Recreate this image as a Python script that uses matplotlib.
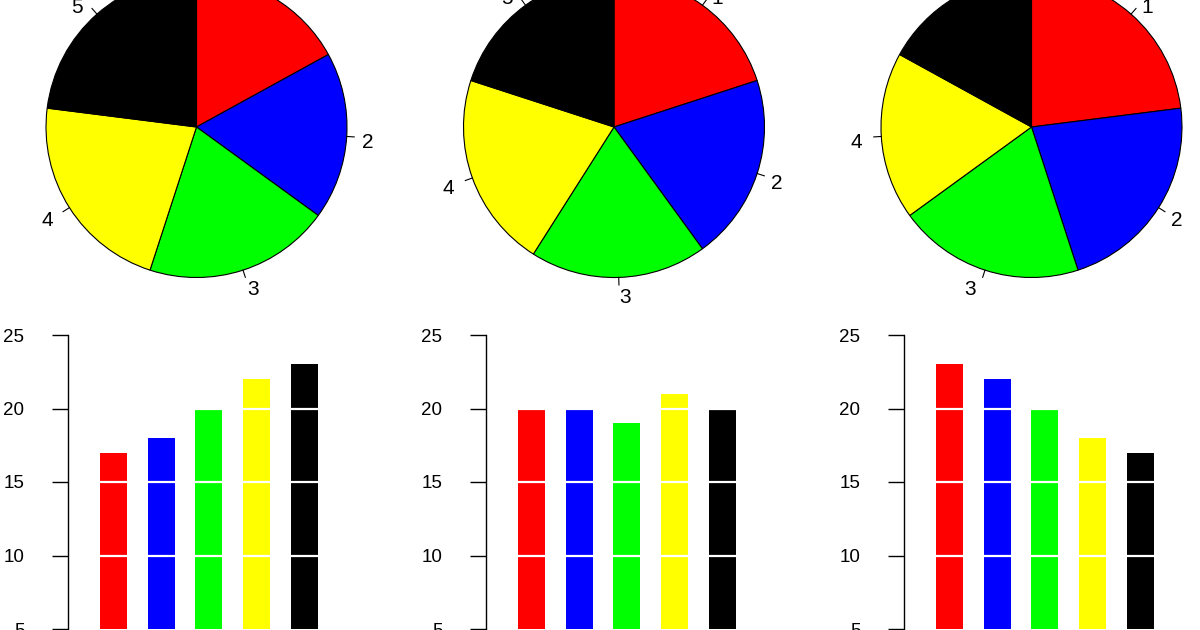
import matplotlib
matplotlib.use("Agg")
import matplotlib.pyplot as plt
import numpy as np

# data: three series shown as pies (top) and bars (bottom)
labels = ["1", "2", "3", "4", "5"]
colors = ["#ff0000", "#0000ff", "#00ff00", "#ffff00", "#000000"]
series_a = [17, 18, 20, 22, 23]
series_b = [20, 20, 19, 21, 20]
series_c = [23, 22, 20, 18, 17]
all_series = [series_a, series_b, series_c]
y_ticks = [5, 10, 15, 20, 25]
white_lines = [10, 15, 20]

W, H = 1200, 630
fig = plt.figure(figsize=(W / 100, H / 100), dpi=100)
fig.patch.set_facecolor("white")

pie_centers = [(196.5, 127), (614, 127), (1031.5, 127)]
bar_axis_x = [68, 486, 904]
pie_r = 150.5
half = 200  # half size of pie axes in px
spacing = 47.7  # px between bar centers
bar_top_px, bar_bot_px = 335, 629  # y=25 and y=5

for i, vals in enumerate(all_series):
    # ---- pie ----
    cx, cy = pie_centers[i]
    ax = fig.add_axes([(cx - half) / W, 1 - (cy + half) / H, 2 * half / W, 2 * half / H])
    wedges, texts = ax.pie(vals, colors=colors, startangle=90, counterclock=False, radius=1,
                           labels=labels, labeldistance=1.1,
                           wedgeprops=dict(edgecolor="black", linewidth=0.8),
                           textprops=dict(fontsize=15, family=["Liberation Sans", "DejaVu Sans"]))
    # R places labels a touch lower (and left-side ones a bit further out)
    for t in texts:
        tx, ty = t.get_position()
        dx = -4 / pie_r if tx < 0 else 0
        t.set_position((tx + dx, ty - 5 / pie_r))
    frac = np.cumsum(vals) / np.sum(vals)
    mid = 90 - 360 * (frac - np.array(vals) / np.sum(vals) / 2)
    rad = np.deg2rad(mid)
    for a in rad:
        ax.plot([np.cos(a), 1.05 * np.cos(a)], [np.sin(a), 1.05 * np.sin(a)],
                color="black", lw=0.8, clip_on=False)
    lim = half / pie_r
    ax.set_xlim(-lim, lim)
    ax.set_ylim(-lim, lim)
    ax.set_aspect("equal")
    ax.axis("off")

    # ---- bars ----
    left = bar_axis_x[i]
    wpx = 330
    bx = fig.add_axes([left / W, 1 - bar_bot_px / H, wpx / W, (bar_bot_px - bar_top_px) / H])
    x = np.arange(len(vals))
    bx.bar(x, vals, width=27 / spacing, color=colors, bottom=0)
    x0 = -45.5 / spacing
    bx.set_xlim(x0, x0 + wpx / spacing)
    bx.set_ylim(5, 25)
    for h in white_lines:
        bx.axhline(h, color="white", lw=1.6, zorder=2)
    for s in ["top", "right", "bottom"]:
        bx.spines[s].set_visible(False)
    bx.spines["left"].set_linewidth(1.0)
    bx.spines["left"].set_zorder(3)
    bx.set_xticks([])
    bx.set_yticks(y_ticks)
    bx.set_yticklabels([str(t) for t in y_ticks],
                       family=["Liberation Sans Narrow", "Liberation Sans", "DejaVu Sans"],
                       fontsize=13.5)
    bx.tick_params(axis="y", length=11.5, width=1.0, pad=20)
    bx.patch.set_alpha(0)

fig.savefig("out.png", dpi=100, facecolor="white")
